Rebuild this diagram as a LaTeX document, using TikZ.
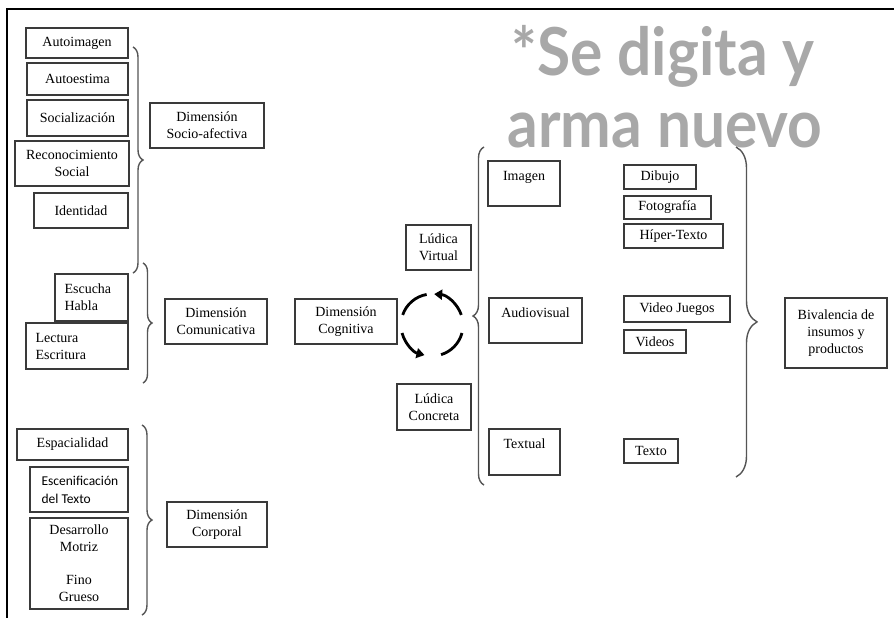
\documentclass[tikz,border=0pt]{standalone}
\usepackage{fontspec}
\setmainfont{Liberation Serif}
\newfontfamily\carlitofont{Carlito}
\newfontfamily\wmfont{Lato}
\usetikzlibrary{decorations.pathreplacing,arrows.meta}
\definecolor{boxline}{HTML}{3A3A3A}
\definecolor{bracecol}{HTML}{555555}
\definecolor{wmgray}{HTML}{A8A8A8}
\tikzset{
  bx/.style={draw=boxline, line width=1.3pt, inner sep=0pt, align=center,
    font=\fontsize{14}{17}\selectfont, text=black},
  txt/.style={inner sep=0pt, font=\fontsize{14}{17}\selectfont, text=black},
  sanstxt/.style={inner sep=0pt, font=\carlitofont\fontsize{13.5}{18}\selectfont, text=black},
  brc/.style={draw=bracecol, line width=1.4pt, decorate},
  frame/.style={draw=black, line width=2pt},
  cyc/.style={line width=2.8pt, draw=black},
  cyca/.style={cyc, -{Triangle[length=8pt,width=10pt]}},
  wm/.style={inner sep=0pt, text=wmgray, xscale=0.96, yscale=1.05, transform shape,
    font=\wmfont\bfseries\fontsize{63}{70}\selectfont}
}
\newcommand{\bx}[6]{%
  \node[bx, minimum width={#4pt-#2pt}, minimum height={#5pt-#3pt}] (#1) at ({(#2+#4)/2},{-(#3+#5)/2}) {#6};}
\begin{document}
\begin{tikzpicture}[x=1pt,y=1pt]
\useasboundingbox (0,0) rectangle (894,-618);
\fill[white] (0,0) rectangle (894,-618);
% frame
\draw[frame] (7,-618) -- (7,-9) -- (894,-9);
% watermark
\node[wm, anchor=base] (wm1) at (663,-75) {*Se digita y};
\node[wm, anchor=base] (wm2) at (665,-147) {arma nuevo};
% left column
\bx{autoimagen}{26}{28}{128}{58}{Autoimagen}
\bx{autoestima}{27}{63}{128}{95}{Autoestima}
\bx{socializ}{27}{100}{128}{136}{Socialización}
\bx{reconoc}{15}{141}{129}{186}{Reconocimiento\\Social}
\bx{identidad}{34}{193}{128}{228}{Identidad}
\bx{socioaf}{150}{103}{264}{148}{Dimensión\\Socio-afectiva}
\bx{escucha}{55}{274}{128}{321}{}
\node[txt, anchor=west, align=left] (escuchaT) at ([xshift=10pt]escucha.west) {Escucha\\Habla};
\bx{lectura}{26}{323}{128}{369}{}
\node[txt, anchor=west, align=left] (lecturaT) at ([xshift=10pt]lectura.west) {Lectura\\Escritura};
\bx{comunic}{165}{299}{267}{344}{Dimensión\\Comunicativa}
\bx{espacial}{17}{429}{128}{460}{Espacialidad}
\bx{escenif}{30}{467}{128}{512}{}
\node[sanstxt, anchor=west, align=left] (escenifT) at ([xshift=12pt]escenif.west) {Escenificación\\del Texto};
\bx{desarrollo}{30}{518}{128}{609}{Desarrollo\\Motriz\\[16pt]Fino\\Grueso}
\bx{corporal}{167}{502}{267}{547}{Dimensión\\Corporal}
% middle
\bx{cognitiva}{295}{299}{397}{344}{Dimensión\\Cognitiva}
\bx{virtual}{406}{225}{471}{270}{Lúdica\\Virtual}
\bx{concreta}{397}{384}{471}{430}{Lúdica\\Concreta}
% cycle arrows
\coordinate (cyc) at (432,-325);
\draw[cyc] ([shift={(100:31)}]cyc) arc[start angle=100, end angle=161, radius=31];
\draw[cyca] ([shift={(19:31)}]cyc) arc[start angle=19, end angle=86, radius=31];
\draw[cyca] ([shift={(195:31)}]cyc) arc[start angle=195, end angle=256, radius=31];
\draw[cyc] ([shift={(287:31)}]cyc) arc[start angle=287, end angle=345, radius=31];
% media types
\bx{imagen}{488}{161}{560}{206}{}
\node[txt, anchor=north] (imagenT) at ([yshift=-11pt]imagen.north) {Imagen};
\bx{audiovis}{489}{298}{582}{343}{}
\node[txt, anchor=north] (audiovisT) at ([yshift=-10pt]audiovis.north) {Audiovisual};
\bx{textual}{489}{429}{560}{475}{}
\node[txt, anchor=north] (textualT) at ([yshift=-10pt]textual.north) {Textual};
\bx{dibujo}{624}{165}{696}{189}{Dibujo}
\bx{foto}{624}{196}{711}{219}{Fotografía}
\bx{hiper}{624}{224}{723}{248}{Híper-Texto}
\bx{videojuegos}{624}{296}{730}{322}{Video Juegos}
\bx{videos}{624}{330}{686}{353}{Videos}
\bx{texto}{624}{439}{678}{463}{Texto}
\bx{bival}{785}{298}{887}{368}{Bivalencia de\\insumos y\\productos}
% braces
\draw[brc, decoration={brace, amplitude=10pt}] (133,-47) -- (133,-273);
\draw[brc, decoration={brace, amplitude=9pt}] (143,-263) -- (143,-383);
\draw[brc, decoration={brace, amplitude=10pt}] (142,-425) -- (142,-615);
\draw[brc, decoration={brace, amplitude=11pt}] (484,-485) -- (484,-147);
\draw[brc, decoration={brace, amplitude=21pt, aspect=0.53}] (736,-147) -- (736,-477);
\end{tikzpicture}
\end{document}
